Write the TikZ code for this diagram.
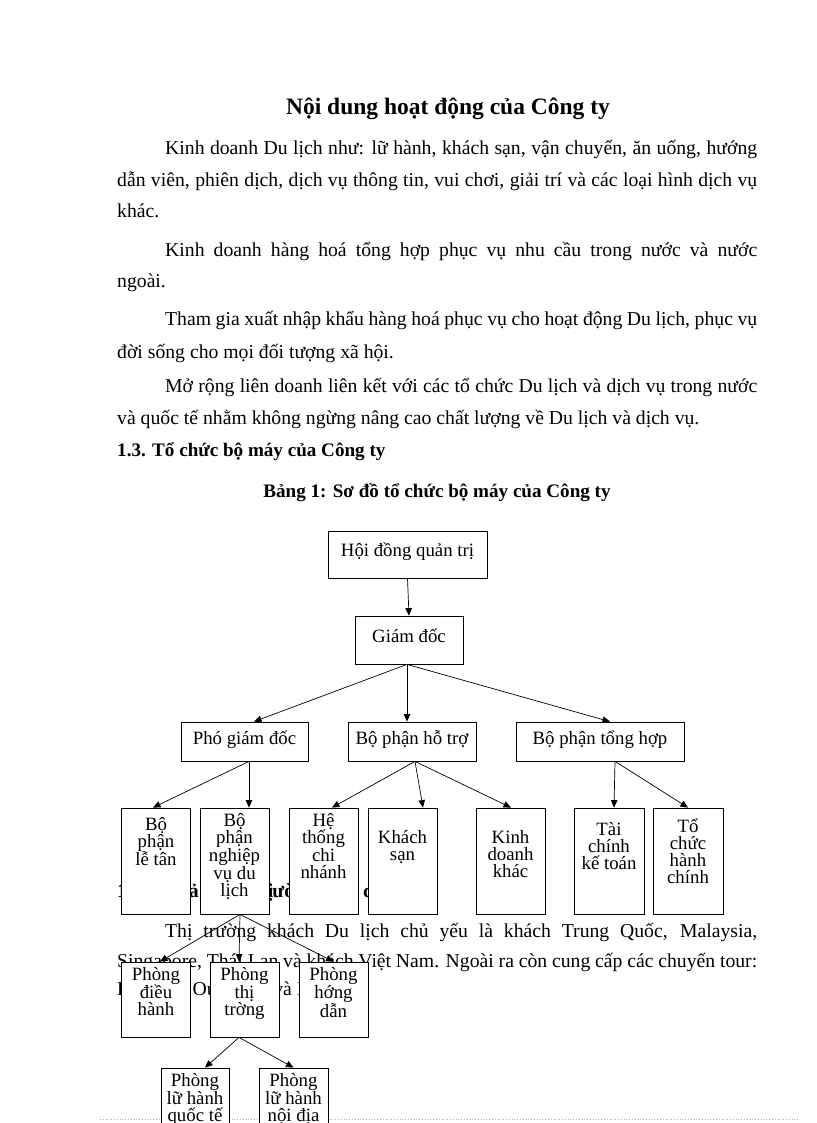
\documentclass[tikz,border=0pt]{standalone}
\usepackage{fontspec}
\setmainfont{Liberation Serif}
\usetikzlibrary{arrows.meta}
\newcommand\bodyfnt{\fontsize{19.7}{23}\selectfont}
\newcommand\headfnt{\fontsize{19.1}{23}\selectfont\bfseries}
\newcommand\titlefnt{\fontsize{23.5}{28}\selectfont\bfseries}
\newcommand\chartfnt{\fontsize{18.8}{17}\selectfont}
\newcommand\jl[2]{\makebox[#1][s]{#2}}
\newcommand\bxt[4]{\parbox[c][#2][t]{#1}{\vspace*{#3}\centering\rule{0pt}{16pt}#4\par}}
\tikzset{
  bx/.style={draw, fill=white, line width=0.8pt, inner sep=0pt, font=\chartfnt},
  arr/.style={-{Triangle[length=7.5pt,width=6.5pt]}, line width=0.7pt},
  txt/.style={inner sep=0pt, anchor=base west, font=\bodyfnt},
  ctxt/.style={inner sep=0pt, anchor=base, font=\bodyfnt},
}
\begin{document}
\begin{tikzpicture}[x=1pt,y=-1pt]
\useasboundingbox (0,0) rectangle (816,1123);
\clip (0,0) rectangle (816,1123);
\fill[white] (0,0) rectangle (816,1123);

% ---- text ----
\node[ctxt, font=\titlefnt] (title) at (448,115) {Nội dung hoạt động của Công ty};
\node[txt] (l1) at (165,155) {\jl{592pt}{Kinh doanh Du lịch như: lữ hành, khách sạn, vận chuyển, ăn uống, hướng}};
\node[txt] (l2) at (117,187) {\jl{640pt}{dẫn viên, phiên dịch, dịch vụ thông tin, vui chơi, giải trí và các loại hình dịch vụ}};
\node[txt] (l3) at (117,218) {khác.};
\node[txt] (l4) at (165,256) {\jl{592pt}{Kinh doanh hàng hoá tổng hợp phục vụ nhu cầu trong nước và nước}};
\node[txt] (l5) at (117,287) {ngoài.};
\node[txt] (l6) at (165,325) {\jl{592pt}{Tham gia xuất nhập khẩu hàng hoá phục vụ cho hoạt động Du lịch, phục vụ}};
\node[txt] (l7) at (117,358) {đời sống cho mọi đối tượng xã hội.};
\node[txt] (l8) at (165,392) {\jl{592pt}{Mở rộng liên doanh liên kết với các tổ chức Du lịch và dịch vụ trong nước}};
\node[txt] (l9) at (117,424) {và quốc tế nhằm không ngừng nâng cao chất lượng về Du lịch và dịch vụ.};
\node[txt, font=\headfnt] (h13) at (117,456) {1.3. Tổ chức bộ máy của Công ty};
\node[ctxt, font=\headfnt] (cap) at (437,497) {Bảng 1: Sơ đồ tổ chức bộ máy của Công ty};
\node[txt, font=\bodyfnt\bfseries] (h14) at (117,897) {1.4.\hspace*{11pt} Khả năng thị\hspace*{-21pt} trường hoạt động};
\node[txt] (p1) at (165,937) {\jl{592pt}{Thị trường khách Du lịch chủ yếu là khách Trung Quốc, Malaysia,}};
\node[txt] (p2) at (117,967) {\jl{640pt}{Singapore, Thái Lan và khách Việt Nam. Ngoài ra còn cung cấp các chuyến tour:}};
\node[txt] (p3) at (117,995) {Du lịch\hspace*{12pt} Outbound\hspace*{-3pt} và Inbound.};

% ---- page edge ----
\draw[gray!60, dotted, line width=0.8pt] (100,1119) -- (800,1119);

% ---- chart boxes ----
\node[bx] (hdqt) at (407.5,554.5) {\bxt{159pt}{47pt}{9pt}{Hội đồng quản trị}};
\node[bx] (gd) at (409,640) {\bxt{108pt}{48pt}{10pt}{Giám đốc}};
\node[bx] (pgd) at (244.5,741.5) {\bxt{127pt}{39pt}{6pt}{Phó giám đốc}};
\node[bx] (hotro) at (412,741.5) {\bxt{128pt}{39pt}{6pt}{Bộ phận hỗ trợ}};
\node[bx] (tonghop) at (600,741.5) {\bxt{168pt}{39pt}{6pt}{Bộ phận tổng hợp}};

\node[bx] (letan) at (156,861) {\bxt{69pt}{106pt}{6pt}{Bộ\\phận\\lễ tân}};
\node[bx] (nghiep) at (234.5,861) {\bxt{69pt}{106pt}{2pt}{Bộ\\phận\\nghiệp\\vụ du\\lịch}};
\node[bx] (heth) at (323.5,861) {\bxt{69pt}{106pt}{2pt}{Hệ\\thống\\chi\\nhánh}};
\node[bx] (ks) at (402.5,861) {\bxt{69pt}{106pt}{19pt}{Khách\\sạn}};
\node[bx] (kd) at (510.5,861) {\bxt{69pt}{106pt}{19pt}{Kinh\\doanh\\khác}};
\node[bx] (tc) at (609,861) {\bxt{70pt}{106pt}{11pt}{Tài\\chính\\kế toán}};
\node[bx] (tch) at (688,861) {\bxt{70pt}{106pt}{8pt}{Tổ\\chức\\hành\\chính}};

\node[bx] (dh) at (156,999.5) {\bxt{69pt}{75pt}{2pt}{Phòng\\điều\\hành}};
\node[bx] (tt) at (244.5,999.5) {\bxt{69pt}{75pt}{2pt}{Phòng\\thị\\trờng}};
\node[bx] (hd) at (333.5,999.5) {\bxt{69pt}{75pt}{2pt}{Phòng\\hớng\\dẫn}};

\node[bx] (qt) at (195,1105.5) {\bxt{68pt}{75pt}{2pt}{Phòng\\lữ hành\\quốc tế}};
\node[bx] (nd) at (293.5,1105.5) {\bxt{69pt}{75pt}{2pt}{Phòng\\lữ hành\\nội địa}};

% ---- connectors ----
\draw[arr] (hdqt.south) -- (gd.north);
\draw[arr] ([xshift=-2pt]gd.south) -- ([xshift=9.5pt]pgd.north);
\draw[arr] ([xshift=-2pt]gd.south) -- ([xshift=-5pt]hotro.north);
\draw[arr] ([xshift=-2pt]gd.south) -- ([xshift=10pt]tonghop.north);

\draw[arr] ([xshift=4.5pt]pgd.south) -- ([xshift=-3pt]letan.north);
\draw[arr] ([xshift=4.5pt]pgd.south) -- ([xshift=14.5pt]nghiep.north);

\draw[arr] ([xshift=3pt]hotro.south) -- ([xshift=8.5pt]heth.north);
\draw[arr] ([xshift=3pt]hotro.south) -- ([xshift=20.5pt]ks.north);
\draw[arr] ([xshift=3pt]hotro.south) -- ([xshift=0.5pt]kd.north);

\draw[arr] ([xshift=15pt]tonghop.south) -- ([xshift=5pt]tc.north);
\draw[arr] ([xshift=15pt]tonghop.south) -- (tch.north);

\draw[arr] ([xshift=5.5pt]nghiep.south) -- ([xshift=4pt]dh.north);
\draw[arr] ([xshift=5.5pt]nghiep.south) -- ([xshift=-5.5pt]tt.north);
\draw[arr] ([xshift=5.5pt]nghiep.south) -- (hd.north);

\draw[arr] ([xshift=-5.5pt]tt.south) -- ([xshift=10pt]qt.north);
\draw[arr] ([xshift=-5.5pt]tt.south) -- (nd.north);
\end{tikzpicture}
\end{document}
